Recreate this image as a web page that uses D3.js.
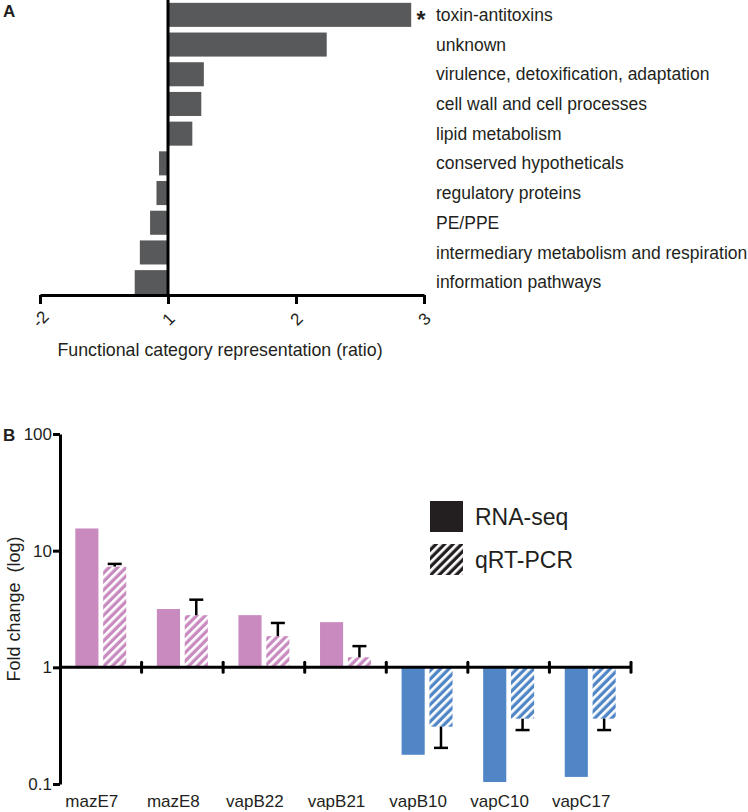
<!DOCTYPE html>
<html><head><meta charset="utf-8">
<script src="https://cdn.jsdelivr.net/npm/d3@7"></script>
<style>
body{margin:0;background:#fff}
text{font-family:"Liberation Sans",Arial,Helvetica,sans-serif;fill:#231f20}
</style>
</head><body>
<svg id="c" width="748" height="812"></svg>
<script>
// ---------- Panel A data ----------
const categories = ["toxin-antitoxins","unknown","virulence, detoxification, adaptation","cell wall and cell processes","lipid metabolism","conserved hypotheticals","regulatory proteins","PE/PPE","intermediary metabolism and respiration","information pathways"];
const ratios = [2.90, 2.24, 1.28, 1.26, 1.19, -1.07, -1.09, -1.14, -1.22, -1.26];
const significant = [true, false, false, false, false, false, false, false, false, false];
const ratioTicks = [-2, 1, 2, 3];
const ratioTitle = "Functional category representation (ratio)";

// ---------- Panel B data ----------
const genes = ["mazE7","mazE8","vapB22","vapB21","vapB10","vapC10","vapC17"];
const seriesNames = ["RNA-seq","qRT-PCR"];
const rnaSeq = [15.5, 3.16, 2.8, 2.44, 0.178, 0.104, 0.115];
const qrtPcr = [7.3, 2.8, 1.85, 1.22, 0.31, 0.363, 0.363];
const qrtPcrErrEnd = [7.7, 3.8, 2.4, 1.52, 0.204, 0.29, 0.29];
const upGenes = [true, true, true, true, false, false, false];
const foldTicks = [0.1, 1, 10, 100];
const foldTitle = "Fold change  (log)";

const svg = d3.select("#c");
const defs = svg.append("defs");
function hatch(id, color){
  const p = defs.append("pattern").attr("id", id)
    .attr("patternUnits","userSpaceOnUse").attr("width",6).attr("height",6)
    .attr("patternTransform","rotate(45)");
  p.append("rect").attr("width",6).attr("height",6).attr("fill",color);
  p.append("rect").attr("width",2.7).attr("height",6).attr("fill","#fff");
}
const pink = "#c98ac0", blue = "#5086c6";
hatch("hPink", pink); hatch("hBlue", blue); hatch("hBlack", "#231f20");

// ================= Panel A =================
const pos = v => v >= 1 ? v : v + 2;   // collapsed axis: -2..-1 | 1..3
const xA = d3.scaleLinear().domain([0, 3]).range([40, 424]);
const yA = d3.scaleBand().domain(categories).range([0, 297]).paddingInner(0.19).paddingOuter(0.095);
const gA = svg.append("g");

gA.selectAll("rect.bar").data(categories).join("rect").attr("class","bar")
  .attr("x", (d,i) => Math.min(xA(pos(ratios[i])), xA(1)))
  .attr("width", (d,i) => Math.abs(xA(pos(ratios[i])) - xA(1)))
  .attr("y", d => yA(d)).attr("height", yA.bandwidth())
  .attr("fill", "#58595b");

gA.selectAll("text.cat").data(categories).join("text").attr("class","cat")
  .attr("x", 436).attr("y", d => yA(d) + yA.bandwidth()/2).attr("dy","0.35em")
  .style("font-size","17.5px").text(d => d);

gA.selectAll("text.star").data(categories.filter((d,i)=>significant[i])).join("text").attr("class","star")
  .attr("x", 421).attr("y", d => yA(d) + yA.bandwidth()/2).attr("dy","0.55em")
  .attr("text-anchor","middle").style("font-size","23px").style("font-weight","bold").text("*");

// vertical line at ratio 1
gA.append("line").attr("x1", xA(pos(1))).attr("x2", xA(pos(1)))
  .attr("y1", 0).attr("y2", 296).attr("stroke","#000").attr("stroke-width",3);

const axA = gA.append("g").attr("transform","translate(0,295)")
  .call(d3.axisBottom(xA).tickValues(ratioTicks.map(pos)).tickFormat((d,i)=>ratioTicks[i]).tickSize(9).tickSizeOuter(0));
axA.select(".domain").attr("stroke","#000").attr("stroke-width",3);
axA.selectAll(".tick line").attr("stroke","#000").attr("stroke-width",3);
axA.selectAll(".tick text").attr("y",0).attr("dy","0.35em")
  .attr("transform","translate(0,24) rotate(-45)").attr("text-anchor","middle")
  .style("font-size","17px").style("fill","#231f20");

gA.append("text").attr("x", 220).attr("y", 356).attr("text-anchor","middle")
  .style("font-size","17.8px").text(ratioTitle);

svg.append("text").attr("x", 3).attr("y", 17).style("font-size","17px").style("font-weight","bold").text("A");

// ================= Panel B =================
const gB = svg.append("g");
const yB = d3.scaleLog().domain([0.1, 100]).range([784, 434]);
const x0 = d3.scaleBand().domain(genes).range([60, 631]);
const x1 = d3.scaleBand().domain(seriesNames).range([0, x0.bandwidth()]).paddingInner(0.17).paddingOuter(0.55);

const barData = [];
genes.forEach((g,i) => {
  barData.push({g, s: seriesNames[0], v: rnaSeq[i], fill: upGenes[i] ? pink : blue});
  barData.push({g, s: seriesNames[1], v: qrtPcr[i], fill: upGenes[i] ? "url(#hPink)" : "url(#hBlue)"});
});
gB.selectAll("rect.b").data(barData).join("rect").attr("class","b")
  .attr("x", d => x0(d.g) + x1(d.s)).attr("width", x1.bandwidth())
  .attr("y", d => Math.min(yB(d.v), yB(1)))
  .attr("height", d => Math.abs(yB(d.v) - yB(1)))
  .attr("fill", d => d.fill);

// error bars
const eb = gB.selectAll("g.err").data(genes).join("g").attr("class","err");
eb.append("line")
  .attr("x1", g => x0(g) + x1("qRT-PCR") + x1.bandwidth()/2)
  .attr("x2", g => x0(g) + x1("qRT-PCR") + x1.bandwidth()/2)
  .attr("y1", (g,i) => yB(qrtPcr[i])).attr("y2", (g,i) => yB(qrtPcrErrEnd[i]))
  .attr("stroke","#000").attr("stroke-width",2.5);
eb.append("line")
  .attr("x1", g => x0(g) + x1("qRT-PCR") + x1.bandwidth()/2 - 7)
  .attr("x2", g => x0(g) + x1("qRT-PCR") + x1.bandwidth()/2 + 7)
  .attr("y1", (g,i) => yB(qrtPcrErrEnd[i])).attr("y2", (g,i) => yB(qrtPcrErrEnd[i]))
  .attr("stroke","#000").attr("stroke-width",2.5);

// baseline at 1 with group ticks
gB.append("line").attr("x1", 60).attr("x2", 631).attr("y1", yB(1)).attr("y2", yB(1))
  .attr("stroke","#000").attr("stroke-width",3);
gB.selectAll("line.gt").data(genes).join("line").attr("class","gt")
  .attr("x1", g => x0(g) + x0.bandwidth()).attr("x2", g => x0(g) + x0.bandwidth())
  .attr("y1", yB(1) - 5).attr("y2", yB(1) + 5)
  .attr("stroke","#000").attr("stroke-width",3).attr("stroke-linecap","round");

gB.selectAll("text.gene").data(genes).join("text").attr("class","gene")
  .attr("x", g => x0(g) + x0.bandwidth()/2 - 9).attr("y", 807).attr("text-anchor","middle")
  .style("font-size","17px").text(g => g);

const axB = gB.append("g").attr("transform","translate(60,0)")
  .call(d3.axisLeft(yB).tickValues(foldTicks).tickFormat(d => String(d)).tickSize(7).tickSizeOuter(0));
axB.select(".domain").attr("stroke","#000").attr("stroke-width",3);
axB.selectAll(".tick line").attr("stroke","#000").attr("stroke-width",3);
axB.selectAll(".tick text").style("font-size","17px").style("fill","#231f20").attr("x",-8);

gB.append("text").attr("transform","translate(20,609) rotate(-90)").attr("text-anchor","middle")
  .style("font-size","18px").style("white-space","pre").text(foldTitle);

svg.append("text").attr("x", 3).attr("y", 441).style("font-size","17px").style("font-weight","bold").text("B");

// legend
const lg = gB.selectAll("g.lg").data(seriesNames).join("g").attr("class","lg")
  .attr("transform", (d,i) => `translate(430,${501 + i*43})`);
lg.append("rect").attr("width",33).attr("height",31)
  .attr("fill", (d,i) => i === 0 ? "#231f20" : "url(#hBlack)");
lg.append("text").attr("x",45).attr("y",16).attr("dy","0.35em")
  .style("font-size","23px").text(d => d);
</script>
</body></html>
